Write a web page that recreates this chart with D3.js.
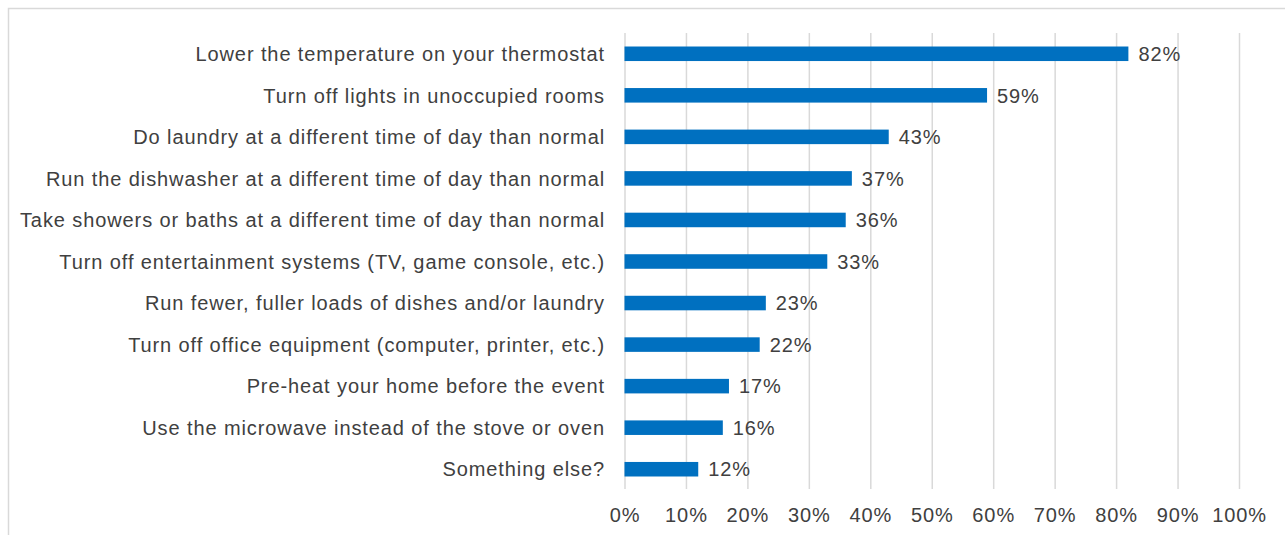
<!DOCTYPE html>
<html>
<head>
<meta charset="utf-8">
<script src="https://cdn.jsdelivr.net/npm/d3@7/dist/d3.min.js"></script>
<style>
  html, body { margin: 0; padding: 0; background: #ffffff; }
  svg { display: block; }
  text { font-family: "Liberation Sans", Arial, sans-serif; fill: #404040; }
</style>
</head>
<body>
<svg id="chart" width="1285" height="535"></svg>
<script>
// Actions taken during an energy event (share of respondents)
const categories = [
  "Lower the temperature on your thermostat",
  "Turn off lights in unoccupied rooms",
  "Do laundry at a different time of day than normal",
  "Run the dishwasher at a different time of day than normal",
  "Take showers or baths at a different time of day than normal",
  "Turn off entertainment systems (TV, game console, etc.)",
  "Run fewer, fuller loads of dishes and/or laundry",
  "Turn off office equipment (computer, printer, etc.)",
  "Pre-heat your home before the event",
  "Use the microwave instead of the stove or oven",
  "Something else?"
];
const values = [0.82, 0.59, 0.43, 0.37, 0.36, 0.33, 0.23, 0.22, 0.17, 0.16, 0.12];
const tickValues = [0, 0.1, 0.2, 0.3, 0.4, 0.5, 0.6, 0.7, 0.8, 0.9, 1.0];

const FONT = 20;
const LS = "0.9px";

const svg = d3.select("#chart");

// outer chart frame
svg.append("rect")
  .attr("x", 8.5).attr("y", 8.5)
  .attr("width", 1400).attr("height", 700)
  .attr("fill", "none")
  .attr("stroke", "#d9d9d9")
  .attr("stroke-width", 1.5);

const x = d3.scaleLinear().domain([0, 1]).range([624.5, 1239]);
const y = d3.scaleBand().domain(categories).range([33, 490])
  .paddingInner(0.65).paddingOuter(0.325);

const plotBottom = 489;
const plotTop = 33;

// vertical gridlines + percentage tick labels
const xAxis = d3.axisBottom(x)
  .tickValues(tickValues)
  .tickFormat(d3.format(".0%"))
  .tickSizeInner(-(plotBottom - plotTop))
  .tickSizeOuter(0)
  .tickPadding(19);

const gx = svg.append("g")
  .attr("transform", `translate(0,${plotBottom})`)
  .call(xAxis);
gx.select(".domain").remove();
gx.selectAll(".tick line")
  .attr("stroke", "#d9d9d9")
  .attr("stroke-width", 1.5);
gx.selectAll(".tick text")
  .attr("font-size", FONT)
  .style("letter-spacing", LS)
  .attr("fill", "#404040");

// bars
svg.append("g").selectAll("rect")
  .data(categories)
  .join("rect")
  .attr("x", x(0))
  .attr("y", d => y(d))
  .attr("width", (d, i) => x(values[i]) - x(0))
  .attr("height", y.bandwidth())
  .attr("fill", "#0070c0");

// category labels
svg.append("g").selectAll("text")
  .data(categories)
  .join("text")
  .attr("x", 605)
  .attr("y", d => y(d) + y.bandwidth() / 2)
  .attr("dy", "0.36em")
  .attr("text-anchor", "end")
  .attr("font-size", FONT)
  .style("letter-spacing", LS)
  .text(d => d);

// value labels
svg.append("g").selectAll("text")
  .data(categories)
  .join("text")
  .attr("x", (d, i) => x(values[i]) + 10)
  .attr("y", d => y(d) + y.bandwidth() / 2)
  .attr("dy", "0.36em")
  .attr("font-size", FONT)
  .style("letter-spacing", LS)
  .text((d, i) => d3.format(".0%")(values[i]));
</script>
</body>
</html>
